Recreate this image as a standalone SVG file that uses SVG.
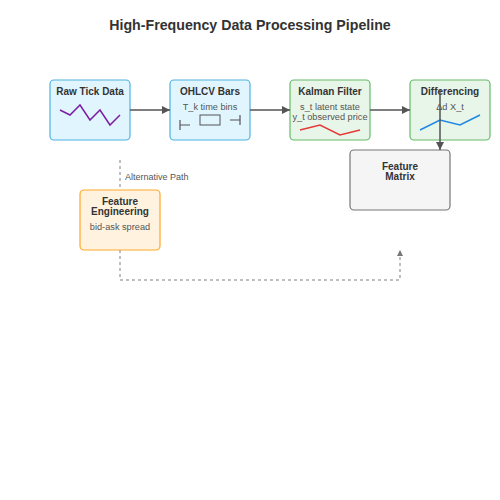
<svg xmlns="http://www.w3.org/2000/svg" width="500" height="500" viewBox="0 0 500 500">
<defs>
<style>
text{font-family:"Liberation Sans",Arial,sans-serif;}
.title{font-size:14.2px;font-weight:bold;fill:#333;text-anchor:middle;}
.nt{font-size:10px;font-weight:bold;fill:#333;text-anchor:middle;}
.sub{font-size:9.2px;fill:#555;text-anchor:middle;}
.lbl{font-size:9px;fill:#555;}
.box{stroke-width:1.2;}
.blue{fill:#e1f5fe;stroke:#4fb3e0;}
.green{fill:#e8f5e9;stroke:#66bb6a;}
.orange{fill:#fff3e0;stroke:#ffa726;}
.gray{fill:#f5f5f5;stroke:#777;}
.flow{stroke:#555;stroke-width:1.5;fill:none;}
.dash{stroke:#aaa;stroke-width:1.5;fill:none;stroke-dasharray:3,3;}
.spark{fill:none;stroke-width:1.5;}
</style>
<marker id="arr" viewBox="0 0 10 10" refX="10" refY="5" markerWidth="8" markerHeight="8" orient="auto" markerUnits="userSpaceOnUse">
<path d="M0,0 L10,5 L0,10 z" fill="#555"/>
</marker>
<marker id="arrg" viewBox="0 0 10 10" refX="10" refY="5" markerWidth="6" markerHeight="6" orient="auto" markerUnits="userSpaceOnUse">
<path d="M0,0 L10,5 L0,10 z" fill="#777"/>
</marker>
</defs>
<rect width="500" height="500" fill="#fff"/>
<text class="title" x="250" y="30">High-Frequency Data Processing Pipeline</text>

<g id="raw-tick-data">
<rect class="box blue" x="50" y="80" width="80" height="60" rx="4"/>
<text class="nt" x="90" y="95">Raw Tick Data</text>
<polyline class="spark" stroke="#7b1fa2" points="60,110 70,115 80,105 90,120 100,110 110,125 120,115"/>
</g>

<g id="ohlcv-bars">
<rect class="box blue" x="170" y="80" width="80" height="60" rx="4"/>
<text class="nt" x="210" y="95">OHLCV Bars</text>
<text class="sub" x="210" y="110">T_k time bins</text>
<path d="M180,120 V130 M180,125 H190 M230,120 H240 M240,115 V125" stroke="#555" stroke-width="1.2" fill="none"/>
<rect x="200" y="115" width="20" height="10" fill="none" stroke="#555" stroke-width="1"/>
</g>

<g id="kalman-filter">
<rect class="box green" x="290" y="80" width="80" height="60" rx="4"/>
<text class="nt" x="330" y="95">Kalman Filter</text>
<text class="sub" x="330" y="110">s_t latent state</text>
<text class="sub" x="330" y="120">y_t observed price</text>
<polyline class="spark" stroke="#e53935" points="300,130 320,125 340,135 360,130"/>
</g>

<g id="differencing">
<rect class="box green" x="410" y="80" width="80" height="60" rx="4"/>
<text class="nt" x="450" y="95">Differencing</text>
<text class="sub" x="450" y="110">Δd X_t</text>
<polyline class="spark" stroke="#1e88e5" points="420,130 440,120 460,125 480,115"/>
</g>

<g id="feature-matrix">
<rect class="box gray" x="350" y="150" width="100" height="60" rx="4"/>
<text class="nt" x="400" y="170" fill="#444">Feature</text>
<text class="nt" x="400" y="180" fill="#444">Matrix</text>
</g>

<g id="feature-engineering">
<rect class="box orange" x="80" y="190" width="80" height="60" rx="4"/>
<text class="nt" x="120" y="205">Feature</text>
<text class="nt" x="120" y="215">Engineering</text>
<text class="sub" x="120" y="230">bid-ask spread</text>
</g>

<g id="connectors">
<line class="flow" x1="130" y1="110" x2="170" y2="110" marker-end="url(#arr)"/>
<line class="flow" x1="250" y1="110" x2="290" y2="110" marker-end="url(#arr)"/>
<line class="flow" x1="370" y1="110" x2="410" y2="110" marker-end="url(#arr)"/>
<line class="flow" x1="440" y1="90" x2="440" y2="150" marker-end="url(#arr)"/>
<line class="dash" x1="120" y1="160" x2="120" y2="190"/>
<text class="lbl" x="125" y="180">Alternative Path</text>
<polyline class="dash" points="120,250 120,280 400,280 400,250" marker-end="url(#arrg)"/>
</g>
</svg>
